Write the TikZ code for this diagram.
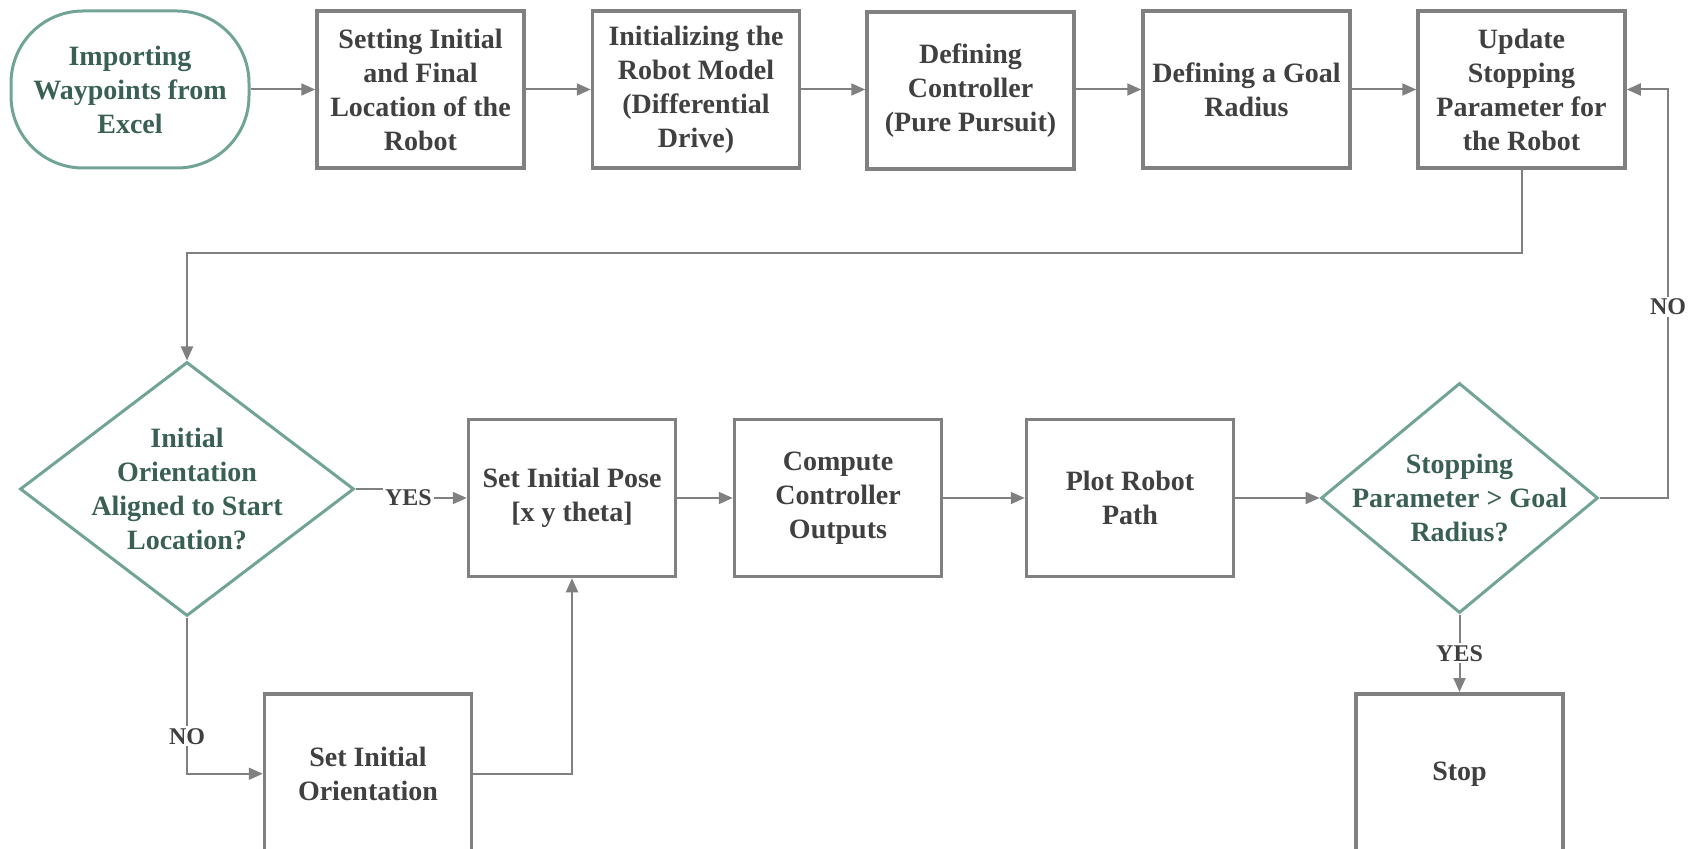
\documentclass[tikz,border=0pt]{standalone}
\usepackage{fontspec}
\setmainfont{Liberation Serif}
\usetikzlibrary{shapes.geometric,arrows.meta}

\tikzset{every picture/.style={line width=0.75pt}}
\tikzset{
  startstop/.style={draw={rgb, 255:red, 113; green, 163; blue, 150 }, line width=1.5pt, rounded corners=36pt,
    minimum width=119pt, minimum height=78.5pt, align=center, inner sep=2pt,
    text={rgb, 255:red, 58; green, 96; blue, 86 }, font=\bfseries\fontsize{14}{17}\selectfont},
  process/.style={draw={rgb, 255:red, 128; green, 128; blue, 128 }, line width=1.75pt,
    minimum width=103.5pt, minimum height=78.5pt, align=center, inner sep=2pt,
    text={rgb, 255:red, 64; green, 64; blue, 64 }, font=\bfseries\fontsize{14}{17}\selectfont},
  decision/.style={diamond, draw={rgb, 255:red, 113; green, 163; blue, 150 }, line width=1.5pt,
    align=center, inner sep=-25pt,
    text={rgb, 255:red, 58; green, 96; blue, 86 }, font=\bfseries\fontsize{14}{17}\selectfont},
  flow/.style={draw={rgb, 255:red, 128; green, 128; blue, 128 }, line width=1pt,
    -{Triangle[length=7pt,width=6pt]}},
  lbl/.style={fill=white, inner sep=1pt, text={rgb, 255:red, 64; green, 64; blue, 64 },
    font=\bfseries\fontsize{12}{14}\selectfont}
}

\begin{document}
\begin{tikzpicture}[x=0.5pt,y=0.5pt,yscale=-1,xscale=1]
\useasboundingbox (0,0) rectangle (1695,849);

%Shape: Terminal
\node [startstop] (imp) at (130,89.5) {Importing\\Waypoints from\\Excel};
%Shape: Rectangle (top row)
\node [process] (loc) at (420.5,89.5) {Setting Initial\\and Final\\Location of the\\Robot};
\node [process] (model) at (696,89.5) {Initializing the\\Robot Model\\(Differential\\Drive)};
\node [process] (ctrl) at (970.5,90.5) {Defining\\Controller\\(Pure Pursuit)};
\node [process] (goal) at (1246.5,89.5) {Defining a Goal\\Radius};
\node [process] (upd) at (1521.5,89.5) {Update\\Stopping\\Parameter for\\the Robot};

%Shape: Diamond
\node [decision, minimum width=167pt, minimum height=127pt] (align) at (187,489) {Initial\\Orientation\\Aligned to Start\\Location?};
%Shape: Rectangle (middle row)
\node [process] (pose) at (572,498) {Set Initial Pose\\{[x y theta]}};
\node [process] (comp) at (838,498) {Compute\\Controller\\Outputs};
\node [process] (plot) at (1130,498) {Plot Robot\\Path};
%Shape: Diamond
\node [decision, minimum width=138.5pt, minimum height=115pt] (stopq) at (1459.5,498) {Stopping\\Parameter > Goal\\Radius?};

%Shape: Rectangle (bottom row)
\node [process, anchor=north, minimum height=80pt] (orient) at (368,692) {Set Initial\\Orientation};
\node [process, anchor=north, minimum height=80pt] (stop) at (1459.5,692) {Stop};

\coordinate (turn) at (187,253);

% Connectors
\draw [flow] (imp) -- (loc);
\draw [flow] (loc) -- (model);
\draw [flow] (model) -- (ctrl.west |- model);
\draw [flow] (ctrl.east |- goal) -- (goal);
\draw [flow] (goal) -- (upd);
\draw [flow] (upd.south) |- (turn) -- (align.north);
\draw [flow] (align.east) -- ++(53,0) |- node [lbl] {YES} (pose.west);
\draw [flow] (pose) -- (comp);
\draw [flow] (comp) -- (plot);
\draw [flow] (plot) -- (stopq);
\draw [flow] (stopq.east) -| (1668,307) node [lbl] {NO} |- (upd.east);
\draw [flow] (stopq.south) -- node [lbl] {YES} (stop.north);
\draw [flow] (align.south) |- node [lbl, pos=0.38] {NO} (orient.west);
\draw [flow] (orient.east) -| (pose.south);

\end{tikzpicture}
\end{document}
